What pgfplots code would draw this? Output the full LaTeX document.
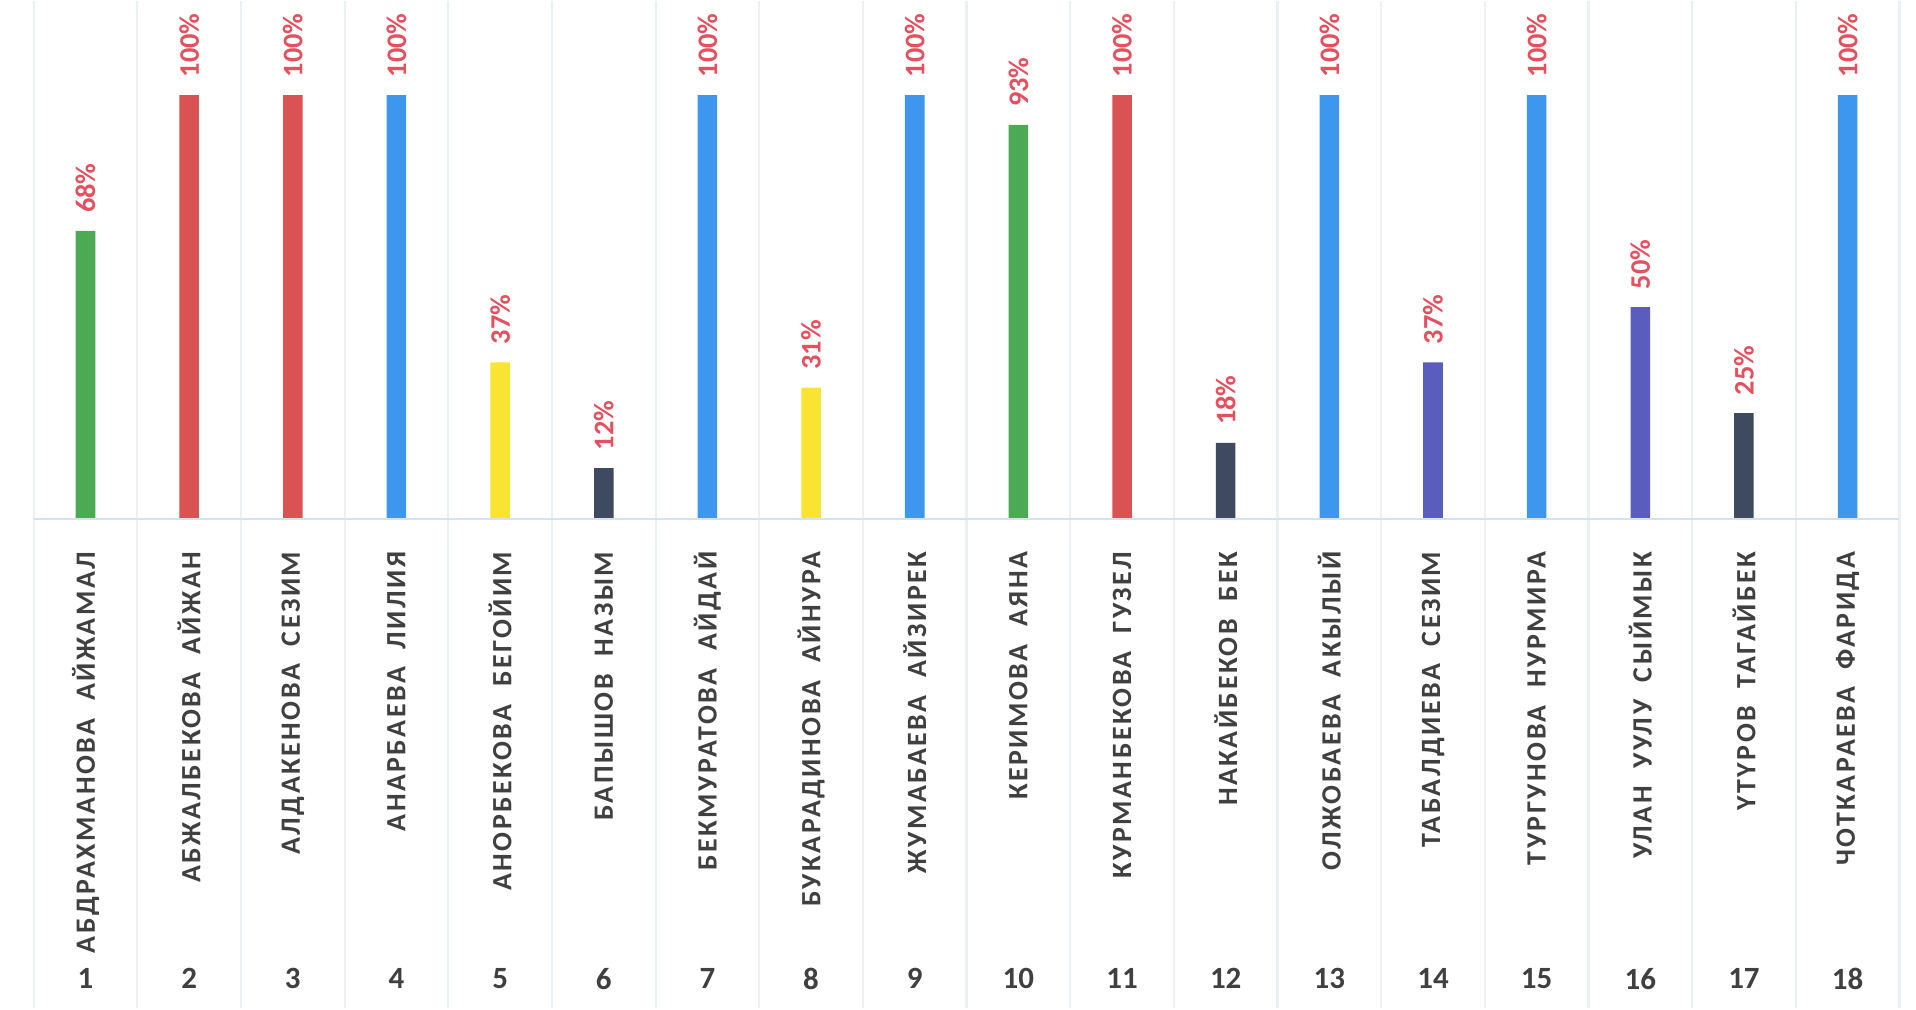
\documentclass[border=0pt]{standalone}
\usepackage{pgfplots}
\pgfplotsset{compat=1.18}
\usepackage{fontspec}
\setmainfont{Carlito}
\newfontfamily\namefont[LetterSpace=9,WordSpace=2]{Carlito}
\definecolor{cgreen}{HTML}{4CAA55}
\definecolor{cred}{HTML}{DB5254}
\definecolor{cblue}{HTML}{3D97EE}
\definecolor{cyellow}{HTML}{F9E531}
\definecolor{cnavy}{HTML}{3E4A60}
\definecolor{cpurple}{HTML}{5A5CBE}
\definecolor{clabel}{HTML}{E4505E}
\definecolor{ctext}{HTML}{404040}
\definecolor{cgrid}{HTML}{EAF1F5}
\definecolor{cbase}{HTML}{D3E2EC}
\begin{document}
\begin{tikzpicture}
\begin{axis}[
  scale only axis,
  width=15.68cm, height=8.24cm,
  xmin=0.175, xmax=18.66,
  ymin=-115.3, ymax=122.2,
  axis line style={draw=none},
  xtick={0.5,1.5,...,18.5},
  xticklabels={},
  x tick label style={overlay, inner sep=0pt},
  ytick=\empty,
  major tick length=0pt,
  xmajorgrids,
  grid style={cgrid, line width=0.5pt},
  clip=false,
  ybar, bar width=1.6mm, bar shift=0pt,
  nodes near coords={\hspace*{4pt}\bfseries\pgfmathprintnumber[fixed,precision=0,assume math mode=true]{\pgfplotspointmeta}\%},
  every node near coord/.append style={rotate=90, anchor=west, text=clabel, font=\fontsize{6.6}{8}\selectfont, inner sep=0pt},
]
\addplot[fill=cgreen, draw=none] coordinates {(1,68) (10,93)};
\addplot[fill=cred, draw=none] coordinates {(2,100) (3,100) (11,100)};
\addplot[fill=cblue, draw=none] coordinates {(4,100) (7,100) (9,100) (13,100) (15,100) (18,100)};
\addplot[fill=cyellow, draw=none] coordinates {(5,37) (8,31)};
\addplot[fill=cnavy, draw=none] coordinates {(6,12) (12,18) (17,25)};
\addplot[fill=cpurple, draw=none] coordinates {(14,37) (16,50)};
% baseline
\addplot[sharp plot, cbase, line width=0.6pt, nodes near coords={}] coordinates {(0.5,0) (18.5,0)};
% names
\addplot[only marks, mark=none, draw=none, fill=none,
  point meta=explicit symbolic,
  nodes near coords={\pgfplotspointmeta},
  every node near coord/.style={rotate=90, anchor=east, text=ctext, font=\namefont\fontsize{6.5}{7}\selectfont\bfseries, inner sep=0pt}]
  table[col sep=comma, row sep=\\, x=x, y=y, meta=name] {
x,y,name\\
1,-7.5,АБДРАХМАНОВА АЙЖАМАЛ\\
2,-7.5,АБЖАЛБЕКОВА АЙЖАН\\
3,-7.5,АЛДАКЕНОВА СЕЗИМ\\
4,-7.5,АНАРБАЕВА ЛИЛИЯ\\
5,-7.5,АНОРБЕКОВА БЕГОЙИМ\\
6,-7.5,БАПЫШОВ НАЗЫМ\\
7,-7.5,БЕКМУРАТОВА АЙДАЙ\\
8,-7.5,БУКАРАДИНОВА АЙНУРА\\
9,-7.5,ЖУМАБАЕВА АЙЗИРЕК\\
10,-7.5,КЕРИМОВА АЯНА\\
11,-7.5,КУРМАНБЕКОВА ГУЗЕЛ\\
12,-7.5,НАКАЙБЕКОВ БЕК\\
13,-7.5,ОЛЖОБАЕВА АКЫЛЫЙ\\
14,-7.5,ТАБАЛДИЕВА СЕЗИМ\\
15,-7.5,ТУРГУНОВА НУРМИРА\\
16,-7.5,УЛАН УУЛУ СЫЙМЫК\\
17,-7.5,ҮТҮРОВ ТАГАЙБЕК\\
18,-7.5,ЧОТКАРАЕВА ФАРИДА\\
};
% numbers
\addplot[only marks, mark=none, draw=none, fill=none,
  point meta=explicit symbolic,
  nodes near coords={\pgfplotspointmeta},
  every node near coord/.style={anchor=center, text=ctext, font=\fontsize{7.2}{8}\selectfont\bfseries, inner sep=0pt}]
  table[col sep=comma, row sep=\\, x=x, y=y, meta=n] {
x,y,n\\
1,-108.4,1\\ 2,-108.4,2\\ 3,-108.4,3\\ 4,-108.4,4\\ 5,-108.4,5\\ 6,-108.4,6\\
7,-108.4,7\\ 8,-108.4,8\\ 9,-108.4,9\\ 10,-108.4,10\\ 11,-108.4,11\\ 12,-108.4,12\\
13,-108.4,13\\ 14,-108.4,14\\ 15,-108.4,15\\ 16,-108.4,16\\ 17,-108.4,17\\ 18,-108.4,18\\
};
\end{axis}
\end{tikzpicture}
\end{document}
